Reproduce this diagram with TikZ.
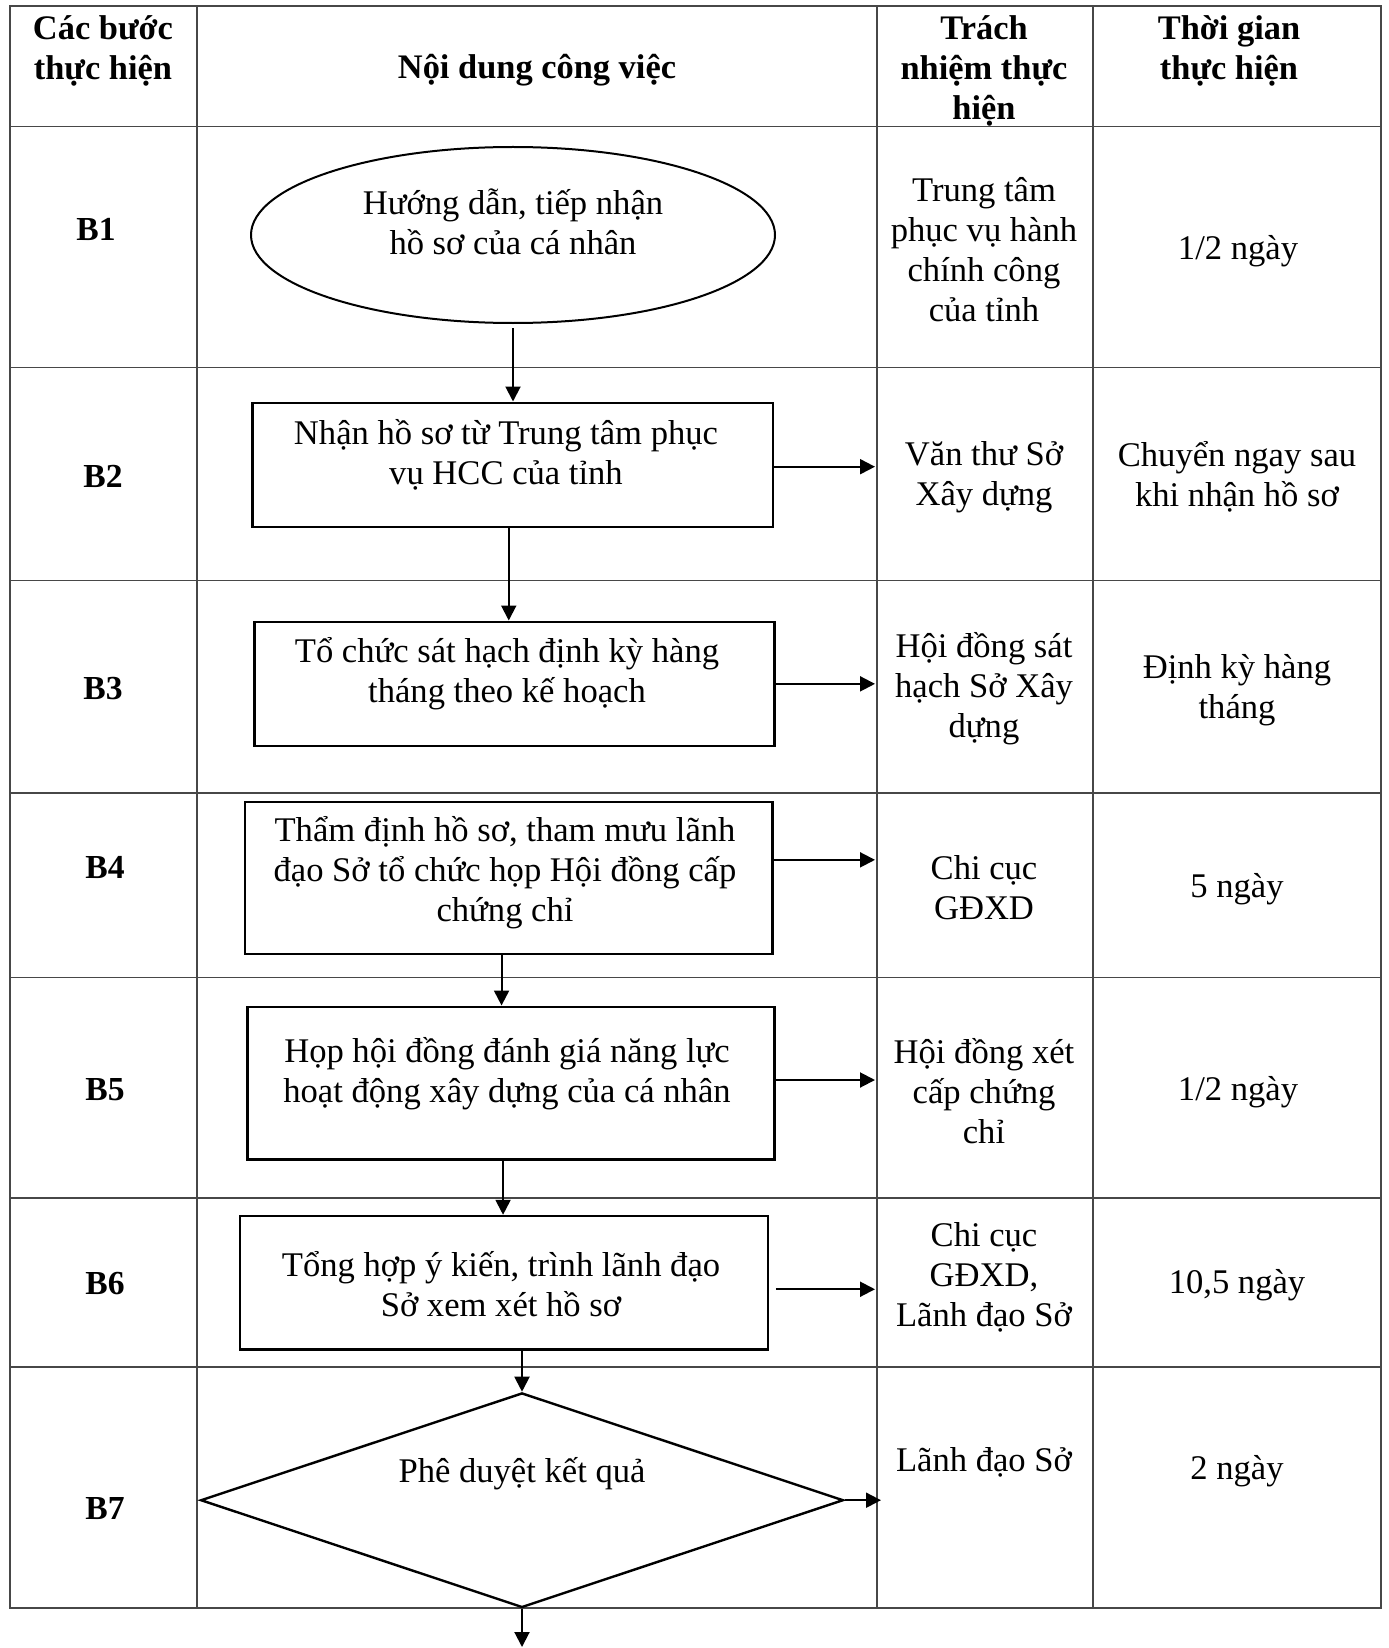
\documentclass[tikz,border=0pt]{standalone}
\usepackage{fontspec}
\setmainfont{Liberation Serif}
\usetikzlibrary{shapes.geometric,arrows.meta}
\begin{document}
\begin{tikzpicture}[x=0.5pt,y=-0.5pt,
  grid/.style={line width=0.8pt, black!72},
  box/.style={draw, line width=1.2pt, rectangle, inner sep=0pt},
  txt/.style={align=center, inner sep=0pt, font=\fontsize{17.3}{20}\selectfont},
  hdr/.style={align=center, inner sep=0pt, font=\fontsize{17.2}{20}\selectfont\bfseries},
  stp/.style={inner sep=0pt, font=\fontsize{16.8}{20}\selectfont\bfseries},
  arr/.style={line width=1pt, -{Triangle[length=7.5pt,width=7.5pt]}},
]
\useasboundingbox (0,0) rectangle (1388,1648);

% table grid
\draw[grid] (9.7,6) rectangle (1381,1607.7);
\foreach \xx in {197,877,1093}{\draw[grid] (\xx,6) -- (\xx,1607.7);}
\foreach \yy in {126.5,367.5,580.5,793,977.5,1198,1367}{\draw[grid] (9.7,\yy) -- (1381,\yy);}

% header
\node[hdr] (h1) at (103,51) {Các bước\\thực hiện};
\node[hdr] (h2) at (537,70) {Nội dung công việc};
\node[hdr] (h3) at (984,71) {Trách\\nhiệm thực\\hiện};
\node[hdr] (h4) at (1229,51) {Thời gian\\thực hiện};

% step labels
\node[stp] (s1) at (96,229) {B1};
\node[stp] (s2) at (103,476) {B2};
\node[stp] (s3) at (103,689) {B3};
\node[stp] (s4) at (105,867) {B4};
\node[stp] (s5) at (105,1090) {B5};
\node[stp] (s6) at (105,1284) {B6};
\node[stp] (s7) at (105,1509) {B7};

% shapes
\node[draw, ellipse, line width=1pt, inner sep=0pt, minimum width=262pt, minimum height=88pt] (e1) at (513,235) {};
\node[box, minimum width=260.25pt, minimum height=62pt] (b2) at (512.75,464.7) {};
\node[box, minimum width=260.1pt, minimum height=62.15pt] (b3) at (514.5,683.85) {};
\node[box, minimum width=263.55pt, minimum height=76.15pt] (b4) at (508.75,877.85) {};
\node[box, minimum width=263.55pt, minimum height=76.3pt] (b5) at (511.05,1083) {};
\node[box, minimum width=263.8pt, minimum height=66.65pt] (b6) at (503.9,1282.65) {};
\node[draw, diamond, line width=1.2pt, inner sep=0pt, minimum width=321.35pt, minimum height=107.3pt] (d7) at (522,1500.2) {};

% texts in shapes
\node[txt] (t1) at (513,222) {Hướng dẫn, tiếp nhận\\hồ sơ của cá nhân};
\node[txt] (t2) at (506,455) {Nhận hồ sơ từ Trung tâm phục\\vụ HCC của tỉnh};
\node[txt] (t3) at (507,673.5) {Tổ chức sát hạch định kỳ hàng\\tháng theo kế hoạch};
\node[txt] (t4) at (505,873) {Thẩm định hồ sơ, tham mưu lãnh\\đạo Sở tổ chức họp Hội đồng cấp\\chứng chỉ};
\node[txt] (t5) at (507,1074) {Họp hội đồng đánh giá năng lực\\hoạt động xây dựng của cá nhân};
\node[txt] (t6) at (501,1284) {Tổng hợp ý kiến, trình lãnh đạo\\Sở xem xét hồ sơ};
\node[txt] (t7) at (522,1474) {Phê duyệt kết quả};

% responsibility column
\node[txt] (r1) at (984,250) {Trung tâm\\phục vụ hành\\chính công\\của tỉnh};
\node[txt] (r2) at (984,477) {Văn thư Sở\\Xây dựng};
\node[txt] (r3) at (984,689) {Hội đồng sát\\hạch Sở Xây\\dựng};
\node[txt] (r4) at (984,888) {Chi cục\\GĐXD};
\node[txt] (r5) at (984,1091) {Hội đồng xét\\cấp chứng\\chỉ};
\node[txt] (r6) at (984,1277) {Chi cục\\GĐXD,\\Lãnh đạo Sở};
\node[txt] (r7) at (984,1462) {Lãnh đạo Sở};

% time column
\node[txt] (q1) at (1238,251) {1/2 ngày};
\node[txt] (q2) at (1237,477) {Chuyển ngay sau\\khi nhận hồ sơ};
\node[txt] (q3) at (1237,690) {Định kỳ hàng\\tháng};
\node[txt] (q4) at (1237,889) {5 ngày};
\node[txt] (q5) at (1238,1092) {1/2 ngày};
\node[txt] (q6) at (1237,1285) {10,5 ngày};
\node[txt] (q7) at (1237,1471) {2 ngày};

% free ends
\coordinate (c3) at (875,0);
\coordinate (c3d) at (881,0);
\coordinate (bot) at (0,1647);

% vertical connectors
\draw[arr] ([yshift=-2pt]e1.south) -- (e1.south |- b2.north);
\draw[arr] ([xshift=-2pt]b2.south) -- ([xshift=-2pt]b2.south |- b3.north);
\draw[arr] ([xshift=-3.6pt]b4.south) -- ([xshift=-3.6pt]b4.south |- b5.north);
\draw[arr] ([xshift=-4pt]b5.south) -- ([xshift=-4pt]b5.south |- b6.north);
\draw[arr] (b6.south -| d7.north) -- (d7.north);
\draw[arr] (d7.south) -- (d7.south |- bot);

% horizontal connectors
\draw[arr] ([yshift=-1pt]b2.east) -- ([yshift=-1pt]b2.east -| c3);
\draw[arr] (b3.east) -- (b3.east -| c3);
\draw[arr] ([yshift=9pt]b4.east) -- ([yshift=9pt]b4.east -| c3);
\draw[arr] ([yshift=1.5pt]b5.east) -- ([yshift=1.5pt]b5.east -| c3);
\draw[arr] ([xshift=3.5pt,yshift=-3.3pt]b6.east) -- ([yshift=-3.3pt]b6.east -| c3);
\draw[arr] (d7.east) -- (d7.east -| c3d);
\end{tikzpicture}
\end{document}
